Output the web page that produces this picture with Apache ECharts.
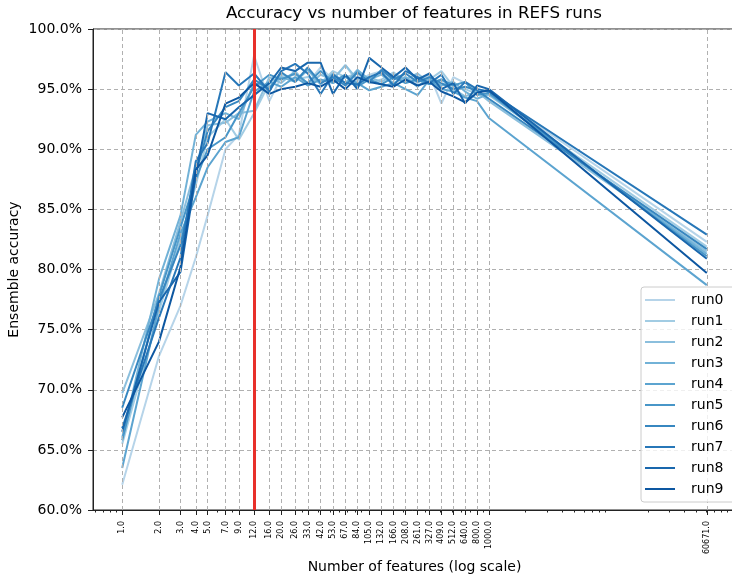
<!DOCTYPE html>
<html><head><meta charset="utf-8">
<script src="https://cdn.jsdelivr.net/npm/echarts@6/dist/echarts.min.js"></script>
<style>html,body{margin:0;padding:0;background:#fff}#c{width:732px;height:578px}</style>
</head><body><div id="c"></div>
<script>
// ---- data ----
const features = [1,2,3,4,5,7,9,12,16,20,26,33,42,53,67,84,105,132,166,208,261,327,409,512,640,800,1000,60671];
const runNames = ['run0','run1','run2','run3','run4','run5','run6','run7','run8','run9'];
const run0 = [62.1,72.8,77.0,81.0,84.5,90.0,91.2,97.8,94.0,96.0,96.2,95.5,96.8,95.8,97.0,95.6,96.2,96.5,95.8,96.0,95.5,96.2,93.8,96.0,95.5,95.0,94.8,82.3];
const run1 = [65.5,76.5,82.5,87.0,91.0,92.5,90.8,93.0,95.5,96.2,95.8,96.0,95.5,96.5,96.0,96.3,95.5,95.8,96.4,95.6,96.0,95.8,96.5,95.2,95.0,94.6,94.5,81.9];
const run2 = [69.7,78.0,84.0,88.5,92.0,92.2,93.0,93.2,96.0,95.5,96.5,95.3,96.2,95.8,97.0,95.8,96.0,95.6,96.2,95.8,96.3,95.5,95.8,95.0,94.4,94.8,94.0,81.5];
const run3 = [66.0,79.2,84.5,91.2,92.3,93.0,92.5,95.5,95.2,96.0,95.6,96.6,95.4,96.3,95.5,96.6,95.8,96.2,95.5,96.0,95.2,96.0,95.3,95.6,94.8,94.2,94.6,81.3];
const run4 = [63.5,77.0,83.0,86.0,88.5,90.6,91.0,94.8,95.6,95.2,96.0,95.3,95.8,95.5,96.0,95.5,94.9,95.2,95.5,95.0,94.5,95.8,95.0,94.8,94.3,94.0,92.6,78.7];
const run5 = [65.8,77.8,83.5,87.5,90.0,91.0,93.0,95.2,96.2,95.8,96.3,95.5,96.5,95.6,96.2,95.2,95.8,95.4,96.0,95.5,95.8,95.4,95.8,95.3,95.6,94.5,94.7,81.1];
const run6 = [68.5,77.5,82.0,88.0,91.5,93.5,94.0,95.8,95.0,96.4,95.6,96.8,95.5,96.0,95.3,96.4,95.6,96.6,95.8,96.3,95.6,96.0,95.5,95.0,95.2,94.9,94.2,81.7];
const run7 = [66.8,76.0,81.0,89.0,90.5,96.4,95.3,96.3,94.8,96.5,97.1,96.3,94.6,96.2,95.5,95.4,96.0,96.4,95.3,96.5,96.0,95.5,96.2,94.6,95.6,95.0,94.8,82.9];
const run8 = [66.5,77.3,79.8,87.8,93.0,92.5,93.5,94.5,95.5,96.8,96.5,97.2,97.2,94.6,96.2,95.0,97.6,96.8,96.0,96.8,95.8,96.3,95.0,95.5,93.8,95.3,95.0,80.9];
const run9 = [67.7,74.0,80.2,88.3,89.5,93.8,94.3,95.5,94.6,95.0,95.2,95.5,95.2,95.8,95.0,96.0,95.6,95.4,95.2,95.8,95.3,95.6,94.8,94.4,93.9,94.7,94.9,79.7];
const runs = [run0,run1,run2,run3,run4,run5,run6,run7,run8,run9];
const selectedFeatures = 12;
const minorTicks = [0.6,0.7,0.8,0.9,2,3,4,5,6,7,8,9,20,30,40,50,60,70,80,90,200,300,400,500,600,700,800,900,2000,3000,4000,5000,6000,7000,8000,9000,20000,30000,40000,50000,60000,70000,80000,90000];

// ---- colours: matplotlib "Blues" colormap ----
const bluesStops = ['#f7fbff','#deebf7','#c6dbef','#9ecae1','#6baed6','#4292c6','#2171b5','#08519c','#08306b'];
function hex2rgb(h){return [1,3,5].map(i=>parseInt(h.slice(i,i+2),16));}
function blues(t){
  const p = t*(bluesStops.length-1), i = Math.min(Math.floor(p), bluesStops.length-2), f = p-i;
  const a = hex2rgb(bluesStops[i]), b = hex2rgb(bluesStops[i+1]);
  return 'rgb('+a.map((v,k)=>Math.round(v+(b[k]-v)*f)).join(',')+')';
}
const colors = runNames.map((_,i)=>blues(0.3 + i*0.55/9));

const FONT = 'DejaVu Sans';
const gridColor = '#b0b0b0';
const chart = echarts.init(document.getElementById('c'), null, {renderer:'canvas'});

const lineSeries = runNames.map((name,i)=>({
  name, type:'line', xAxisIndex:0, yAxisIndex:0,
  data: features.map((f,j)=>[f, runs[i][j]]),
  symbol:'none', showSymbol:false, z:3,
  lineStyle:{color:colors[i], width:2}, itemStyle:{color:colors[i]},
  emphasis:{disabled:true}
}));

chart.setOption({
  animation:false,
  backgroundColor:'#fff',
  textStyle:{fontFamily:FONT},
  title:{
    text:'Accuracy vs number of features in REFS runs',
    left:414, top:5, textAlign:'center', padding:0,
    textStyle:{fontFamily:FONT, fontSize:16.7, fontWeight:'normal', color:'#000'}
  },
  grid:{left:93, right:-4, top:29, bottom:68, show:true, borderColor:'#222', borderWidth:1,
    backgroundColor:'transparent', containLabel:false, outerBoundsMode:'none'},
  legend:{
    orient:'vertical', left:641, top:287, z:10,
    data:runNames,
    itemWidth:30, itemHeight:14, itemGap:7,
    padding:[6,12,6,4],
    backgroundColor:'rgba(255,255,255,0.8)', borderColor:'#cccccc', borderWidth:1, borderRadius:3,
    textStyle:{fontFamily:FONT, fontSize:14, color:'#000', padding:[0,0,0,11], lineHeight:14},
    icon:'path://M0,0 L30,0 L30,2 L0,2 Z'
  },
  xAxis:[{
    type:'log', logBase:10, min:0.577, max:105200,
    name:'Number of features (log scale)', nameLocation:'middle', nameGap:50, nameMoveOverlap:false,
    nameTextStyle:{fontFamily:FONT, fontSize:14, color:'#000'},
    axisLine:{show:true, lineStyle:{color:'#222', width:1}},
    axisTick:{show:true, customValues:features, length:5, inside:false, lineStyle:{color:'#222'}},
    axisLabel:{show:true, customValues:features, rotate:90, margin:11, fontFamily:FONT, fontSize:8, color:'#000',
      formatter:v=>Number(v).toFixed(1), hideOverlap:false},
    splitLine:{show:false}, minorTick:{show:false}
  },{
    type:'log', logBase:10, min:0.577, max:105200, position:'bottom',
    axisLine:{show:false},
    axisTick:{show:true, customValues:minorTicks, length:2.5, lineStyle:{color:'#222'}},
    axisLabel:{show:false}, splitLine:{show:false}
  }],
  yAxis:{
    type:'value', min:60, max:100, interval:5,
    name:'Ensemble accuracy', nameLocation:'middle', nameGap:72, nameRotate:90, nameMoveOverlap:false,
    nameTextStyle:{fontFamily:FONT, fontSize:14, color:'#000'},
    axisLine:{show:true, lineStyle:{color:'#222'}},
    axisTick:{show:true, length:5, lineStyle:{color:'#222'}},
    axisLabel:{margin:11, fontFamily:FONT, fontSize:14, color:'#000', formatter:v=>v.toFixed(1)+'%'},
    splitLine:{show:true, lineStyle:{color:gridColor, type:[4,3], width:1}}
  },
  series:[
    {
      name:'_grid', type:'line', data:[], z:1, silent:true,
      markLine:{silent:true, symbol:'none', label:{show:false}, animation:false,
        lineStyle:{color:gridColor, type:[4,3], width:1},
        emphasis:{disabled:true},
        data:features.map(f=>({xAxis:f}))}
    },
    ...lineSeries,
    {
      name:'_sel', type:'line', data:[], z:5, silent:true,
      markLine:{silent:true, symbol:'none', label:{show:false}, animation:false,
        lineStyle:{color:'#e8302a', type:'solid', width:3},
        emphasis:{disabled:true},
        data:[{xAxis:selectedFeatures}]}
    }
  ]
});
</script></body></html>
